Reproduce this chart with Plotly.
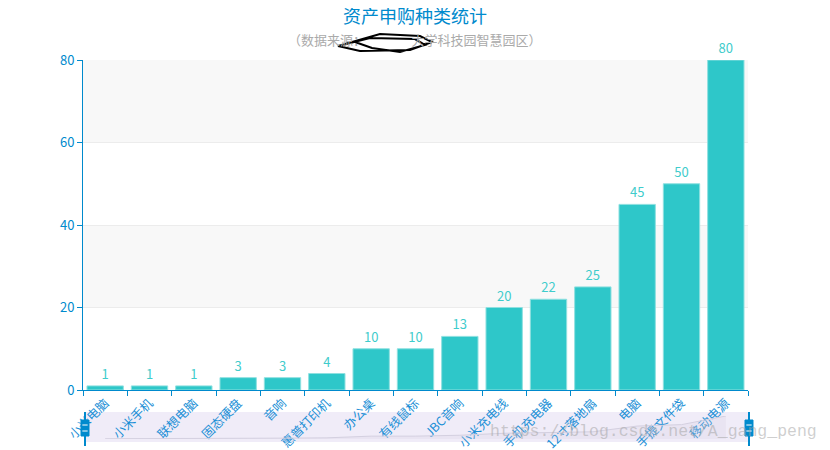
import plotly.graph_objects as go

# 资产申购数据
categories = ['小米电脑', '小米手机', '联想电脑', '固态硬盘', '音响', '惠普打印机', '办公桌',
              '有线鼠标', 'JBC音响', '小米充电线', '手机充电器', '12寸落地扇', '电脑',
              '手提文件袋', '移动电源']
counts = [1, 1, 1, 3, 3, 4, 10, 10, 13, 20, 22, 25, 45, 50, 80]
y_ticks = [0, 20, 40, 60, 80]

blue = '#008acd'
teal = '#2ec7c9'
font = 'Noto Sans CJK SC'


def py(px):
    # screen row -> paper y (plot area spans rows 60..445)
    return (445 - px) / 385


def pxx(px):
    # screen column -> paper x (plot area spans columns 83..748)
    return (px - 83) / 665


fig = go.Figure()

# bars
fig.add_trace(go.Bar(x=categories, y=counts, marker_color=teal,
                     marker_line_color='#8fe0e0', marker_line_width=1,
                     text=counts, textposition='outside', cliponaxis=False,
                     textfont=dict(color='#3fcccc', size=13, family=font),
                     hoverinfo='x+y', showlegend=False))

# data shadow inside the zoom slider
fig.add_trace(go.Scatter(x=categories, y=counts, xaxis='x2', yaxis='y2', mode='lines',
                         line=dict(color='#d4d0e0', width=1), fill='tozeroy',
                         fillcolor='rgba(210,205,225,0.25)', hoverinfo='skip', showlegend=False))

shapes = []
# alternating split areas
for lo, hi in [(20, 40), (60, 80)]:
    shapes.append(dict(type='rect', xref='paper', yref='y', x0=0, x1=1, y0=lo, y1=hi,
                       fillcolor='#f8f8f8', line_width=0, layer='below'))

# slider background
y_s0, y_s1 = py(442), py(412)
shapes.append(dict(type='rect', xref='paper', yref='paper', x0=pxx(85), x1=pxx(749),
                   y0=y_s0, y1=y_s1, fillcolor='rgba(182,162,222,0.2)', line_width=0,
                   layer='below'))
# slider handles
for hx in [pxx(85), pxx(749)]:
    shapes.append(dict(type='line', xref='paper', yref='paper', x0=hx, x1=hx,
                       y0=py(446), y1=y_s1, line=dict(color=blue, width=2)))
    shapes.append(dict(type='rect', xref='paper', yref='paper', x0=hx - 0.006, x1=hx + 0.006,
                       y0=py(436), y1=py(420), fillcolor=blue, line=dict(color=blue, width=1)))
    for ly in [py(425), py(431)]:
        shapes.append(dict(type='line', xref='paper', yref='paper', x0=hx - 0.004,
                           x1=hx + 0.004, y0=ly, y1=ly, line=dict(color='white', width=1)))

# scribble over the data source
sx = [pxx(v) for v in (345, 380, 420, 432, 410, 360, 338, 370, 415, 425, 400, 372, 355)]
sy = [py(v) for v in (44, 34, 36, 42, 50, 51, 46, 38, 39, 45, 52, 48, 42)]
path = 'M {:.4f} {:.4f} '.format(sx[0], sy[0]) + ' '.join(
    'L {:.4f} {:.4f}'.format(a, b) for a, b in zip(sx[1:], sy[1:]))
shapes.append(dict(type='path', xref='paper', yref='paper', path=path,
                   line=dict(color='black', width=2)))

# the page body adds an 8px margin, so the figure is 8px smaller and shifted
fig.update_layout(
    width=822, height=442,
    margin=dict(l=75, r=82, t=52, b=5),
    plot_bgcolor='white', paper_bgcolor='white',
    font=dict(family=font, color=blue),
    bargap=0.18,
    xaxis=dict(type='category', range=[-0.5, 14.5], showline=True, linecolor=blue, linewidth=1,
               ticks='outside', tickson='boundaries', ticklen=5, tickcolor=blue,
               tickangle=-45, tickfont=dict(size=12.5, color='#1a8fd6'), showgrid=False,
               anchor='y', automargin=False),
    yaxis=dict(domain=[py(390), 1], range=[0, 80], tickvals=y_ticks, showline=True,
               linecolor=blue, linewidth=1, ticks='outside', ticklen=5, tickcolor=blue,
               tickfont=dict(size=13, color=blue), gridcolor='#ececec', zeroline=False,
               automargin=False),
    xaxis2=dict(type='category', range=[-0.5, 14.5], anchor='y2', visible=False),
    yaxis2=dict(domain=[py(439), py(416)], range=[0, 80], anchor='x2', visible=False),
    shapes=shapes,
    annotations=[
        dict(text='资产申购种类统计', xref='paper', yref='paper', x=pxx(415), y=py(15),
             xanchor='center', yanchor='middle', showarrow=False,
             font=dict(size=18, color=blue, family=font)),
        dict(text='（数据来源：　　　　大学科技园智慧园区）', xref='paper', yref='paper',
             x=pxx(415), y=py(40), xanchor='center', yanchor='middle', showarrow=False,
             font=dict(size=13, color='#aaaaaa', family=font)),
        dict(text='https://blog.csdn.net/A_gang_peng', xref='paper', yref='paper',
             x=pxx(819), y=py(431), xanchor='right', yanchor='middle', showarrow=False,
             font=dict(family='Liberation Mono', size=16.5, color='rgba(160,160,160,0.5)')),
    ],
)

fig.write_html('out.html')
